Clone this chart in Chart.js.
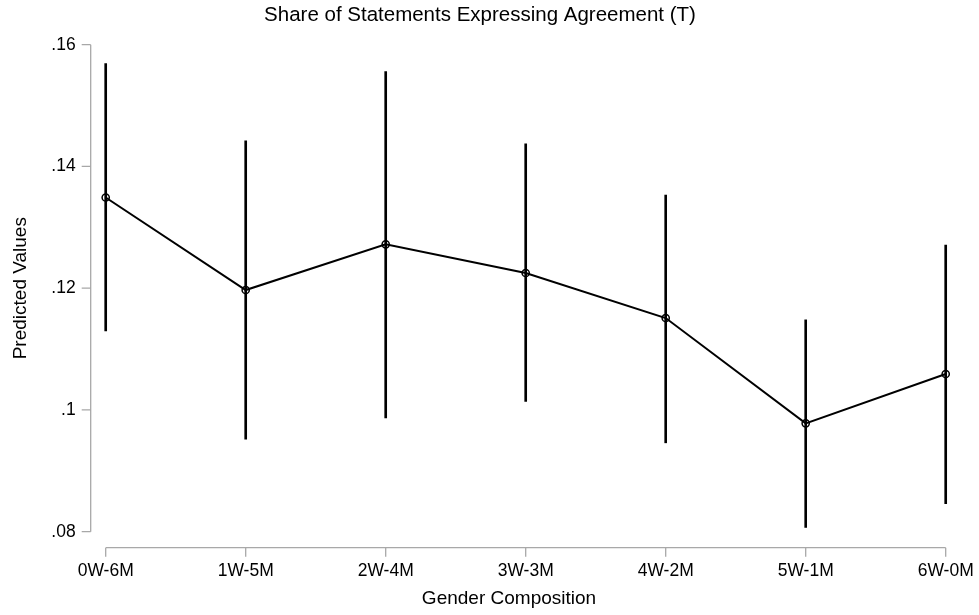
<!DOCTYPE html>
<html>
<head>
<meta charset="utf-8">
<script src="https://cdn.jsdelivr.net/npm/chart.js@4.4.0/dist/chart.umd.min.js"></script>
<style>
  html, body { margin: 0; padding: 0; background: #ffffff; }
  #wrap { width: 979px; height: 615px; }
</style>
</head>
<body>
<div id="wrap"><canvas id="c" width="979" height="615"></canvas></div>
<script>
// Group compositions along the horizontal axis
const categories = ['0W-6M', '1W-5M', '2W-4M', '3W-3M', '4W-2M', '5W-1M', '6W-0M'];
// Predicted share and its confidence interval for each composition
const predicted = [0.1349, 0.1197, 0.1272, 0.1225, 0.1151, 0.0978, 0.1059];
const lowerCI   = [0.1130, 0.0952, 0.0987, 0.1014, 0.0946, 0.0807, 0.0846];
const upperCI   = [0.1569, 0.1442, 0.1556, 0.1437, 0.1353, 0.1148, 0.1271];
// Vertical axis ticks
const yTickValues = [0.08, 0.10, 0.12, 0.14, 0.16];
const yTickLabels = ['.08', '.1', '.12', '.14', '.16'];

const chartTitle = 'Share of Statements Expressing Agreement (T)';
const xTitle = 'Gender Composition';
const yTitle = 'Predicted Values';

const FONT = "'Liberation Sans', Arial, Helvetica, sans-serif";
const AXIS_GRAY = '#a8a8a8';
const AXIS_GAP = 15;   // distance between plot region and drawn axis lines
const TICK_LEN = 9;

// Draws detached axis lines, tick marks and titles
const detachedAxes = {
  id: 'detachedAxes',
  afterDraw(chart) {
    const { ctx, chartArea, scales } = chart;
    const x = scales.x, y = scales.y;
    ctx.save();
    ctx.strokeStyle = AXIS_GRAY;
    ctx.lineWidth = 1.3;
    ctx.lineCap = 'butt';

    // y axis
    const ax = chartArea.left - AXIS_GAP;
    const yTop = y.getPixelForValue(yTickValues[yTickValues.length - 1]);
    const yBot = y.getPixelForValue(yTickValues[0]);
    ctx.beginPath();
    ctx.moveTo(ax, yTop);
    ctx.lineTo(ax, yBot);
    yTickValues.forEach(v => {
      const py = y.getPixelForValue(v);
      ctx.moveTo(ax - TICK_LEN, py);
      ctx.lineTo(ax, py);
    });
    ctx.stroke();

    // x axis
    const ay = chartArea.bottom + AXIS_GAP + 1;
    const xL = x.getPixelForValue(0);
    const xR = x.getPixelForValue(categories.length - 1);
    ctx.beginPath();
    ctx.moveTo(xL, ay);
    ctx.lineTo(xR, ay);
    categories.forEach((c, i) => {
      const px = x.getPixelForValue(i);
      ctx.moveTo(px, ay);
      ctx.lineTo(px, ay + TICK_LEN);
    });
    ctx.stroke();

    // titles
    ctx.fillStyle = '#000000';
    ctx.textAlign = 'center';
    ctx.textBaseline = 'middle';
    ctx.font = '20.5px ' + FONT;
    ctx.fillText(chartTitle, 480, 15);

    ctx.font = '19px ' + FONT;
    ctx.fillText(xTitle, 509, 599);

    ctx.save();
    ctx.translate(21, (chartArea.top + chartArea.bottom) / 2);
    ctx.rotate(-Math.PI / 2);
    ctx.fillText(yTitle, 0, 0);
    ctx.restore();

    ctx.restore();
  }
};

new Chart(document.getElementById('c'), {
  data: {
    labels: categories,
    datasets: [
      {
        type: 'line',
        label: 'Predicted',
        data: predicted,
        borderColor: '#000000',
        borderWidth: 2,
        pointRadius: 3.6,
        pointBorderWidth: 1.5,
        pointBackgroundColor: 'rgba(0,0,0,0)',
        pointBorderColor: '#000000',
        tension: 0,
        clip: false,
        order: 1
      },
      {
        type: 'bar',
        label: 'CI',
        data: lowerCI.map((lo, i) => [lo, upperCI[i]]),
        backgroundColor: '#000000',
        borderWidth: 0,
        barThickness: 2,
        clip: false,
        order: 2
      }
    ]
  },
  options: {
    responsive: false,
    animation: false,
    devicePixelRatio: 1,
    layout: { padding: { top: 44.7, right: 33.3, left: 0, bottom: 0 } },
    plugins: {
      legend: { display: false },
      title: { display: false },
      tooltip: { enabled: false }
    },
    scales: {
      x: {
        type: 'category',
        offset: false,
        grid: { display: false, drawTicks: false },
        border: { display: false },
        ticks: {
          color: '#000000',
          font: { family: FONT, size: 17.5 },
          padding: 29,
          maxRotation: 0,
          autoSkip: false
        },
        afterFit(scale) {
          scale.height = 615 - 531.7;
          scale.paddingLeft = 0;
          scale.paddingRight = 0;
        }
      },
      y: {
        type: 'linear',
        min: 0.08,
        max: 0.16,
        grid: { display: false, drawTicks: false },
        border: { display: false },
        afterBuildTicks(scale) {
          scale.ticks = yTickValues.map(v => ({ value: v }));
        },
        ticks: {
          color: '#000000',
          font: { family: FONT, size: 17.5 },
          padding: 30,
          callback(value) {
            const i = yTickValues.findIndex(t => Math.abs(t - value) < 1e-9);
            return i >= 0 ? yTickLabels[i] : '';
          }
        },
        afterFit(scale) {
          scale.width = 105.7;
          scale.paddingTop = 0;
          scale.paddingBottom = 0;
        }
      }
    }
  },
  plugins: [detachedAxes]
});
</script>
</body>
</html>
